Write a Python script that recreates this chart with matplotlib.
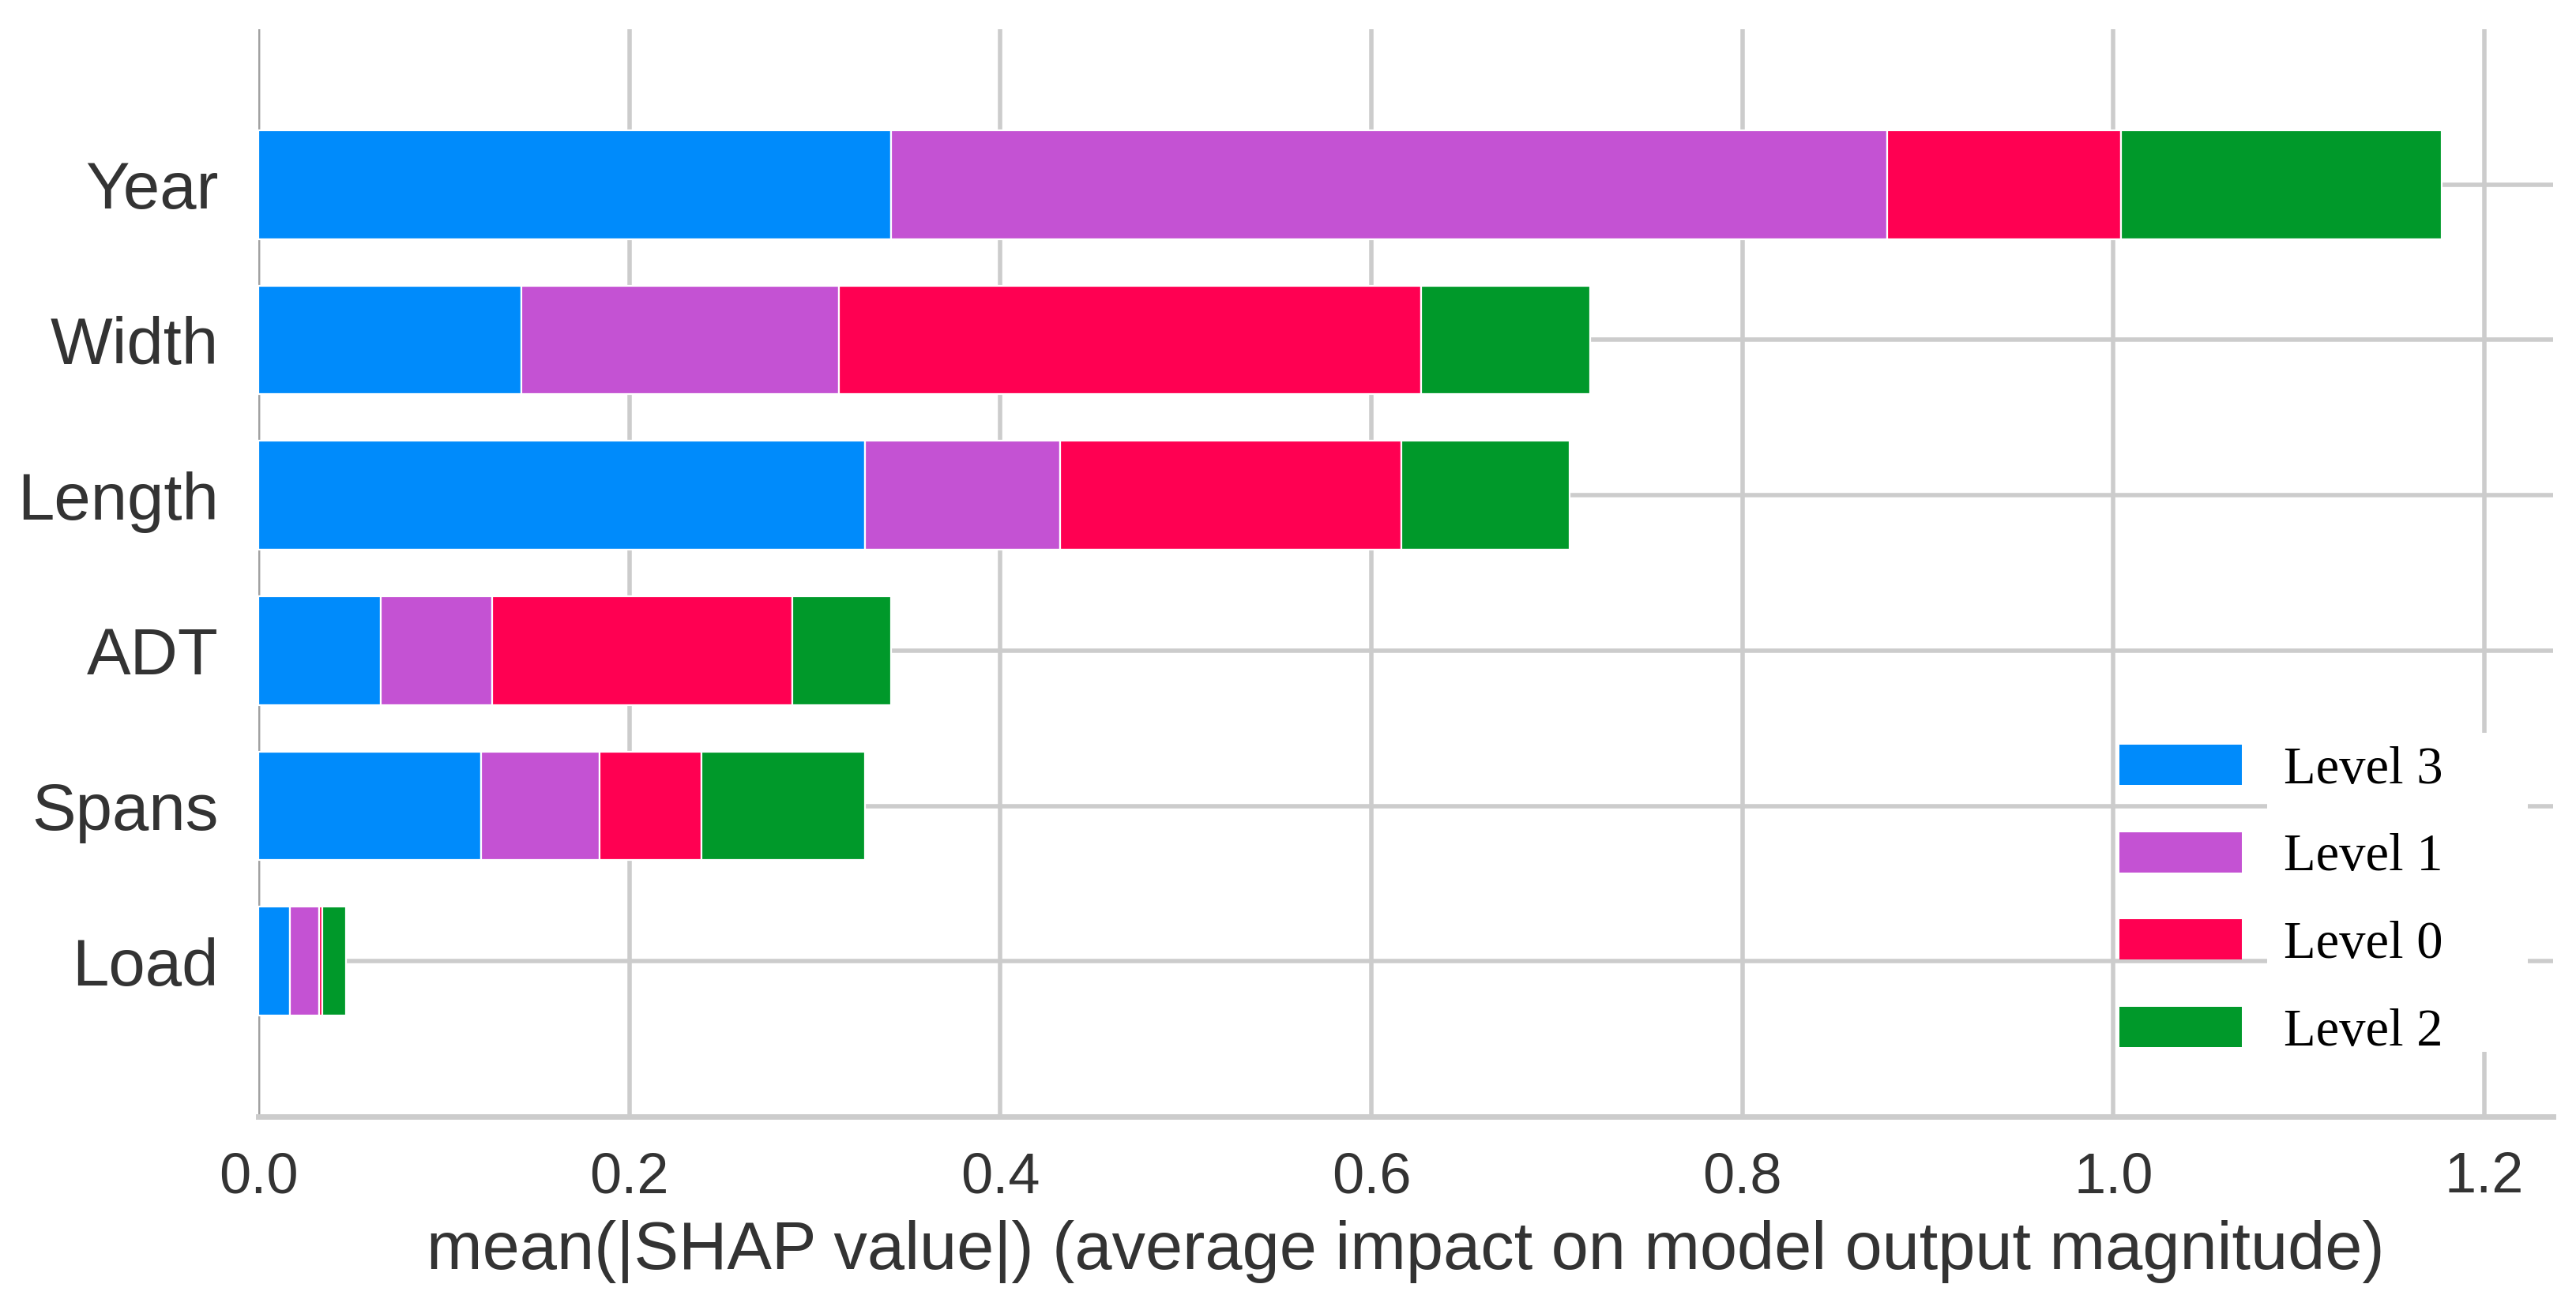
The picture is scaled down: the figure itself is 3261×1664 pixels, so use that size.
import matplotlib.pyplot as plt
import numpy as np
from matplotlib.patches import Patch, Rectangle

# features, top row first
features = ["Year", "Width", "Length", "ADT", "Spans", "Load"]
classes = ["Level 3", "Level 1", "Level 0", "Level 2"]
colors = ["#008bfb", "#c452d3", "#ff0052", "#00992a"]

# mean |SHAP| per class, same order as features
level3 = [0.341, 0.142, 0.327, 0.066, 0.120, 0.017]
level1 = [0.537, 0.171, 0.105, 0.060, 0.064, 0.016]
level0 = [0.126, 0.314, 0.184, 0.162, 0.055, 0.0013]
level2 = [0.173, 0.091, 0.091, 0.053, 0.088, 0.013]

xticks = [0.0, 0.2, 0.4, 0.6, 0.8, 1.0, 1.2]

W, H, DPI = 3261, 1664, 200
GRID = "#cccccc"
TEXT = "#333333"

fig = plt.figure(figsize=(W / DPI, H / DPI), dpi=DPI)
ax = fig.add_axes([327 / W, 250 / H, (3232 - 327) / W, (1414 - 37) / H])

y = np.arange(len(features))[::-1]
left = np.zeros(len(features))
for vals, c, name in zip([level3, level1, level0, level2], colors, classes):
    vals = np.array(vals)
    ax.barh(y, vals, 0.7, left=left, color=c, edgecolor="white", linewidth=0.8,
            label=name, zorder=3)
    left += vals

ax.set_xlim(0, 1.237)
ax.set_ylim(-1, len(features))
ax.set_yticks(y)
ax.set_yticklabels(features, fontsize=30, color=TEXT, family="Liberation Sans")
ax.set_xticks(xticks)
ax.set_xticklabels([f"{t:.1f}" for t in xticks], fontsize=26, color=TEXT,
                   family="Liberation Sans")
ax.tick_params(axis="both", length=0)
ax.tick_params(axis="y", pad=18)
ax.tick_params(axis="x", pad=16)
ax.set_xlabel("mean(|SHAP value|) (average impact on model output magnitude)",
              fontsize=30.5, color=TEXT, family="Liberation Sans", labelpad=7)

ax.set_axisbelow(True)
ax.grid(True, color=GRID, linewidth=2.0)
ax.axvline(0, color="#a0a0a0", linewidth=1.4, zorder=1)
for s in ["top", "right", "left"]:
    ax.spines[s].set_visible(False)
ax.spines["bottom"].set_color(GRID)
ax.spines["bottom"].set_linewidth(2.5)

# white block behind the legend labels
ax.add_patch(Rectangle((2870 / W, 1 - 1332 / H), 330 / W, 404 / H,
                       transform=fig.transFigure, facecolor="white",
                       edgecolor="none", zorder=2.5))

handles = [Patch(facecolor=c, edgecolor="none") for c in colors]
leg = ax.legend(handles, classes, loc="upper left",
                bbox_to_anchor=(2683 / W, 1 - 943 / H), bbox_transform=fig.transFigure,
                frameon=False, borderpad=0, borderaxespad=0,
                handlelength=2.32, handleheight=0.8, handletextpad=0.8,
                labelspacing=0.72, prop={"family": "Liberation Serif", "size": 24})
leg.set_zorder(5)

fig.savefig("out.png", dpi=DPI, facecolor="white")
